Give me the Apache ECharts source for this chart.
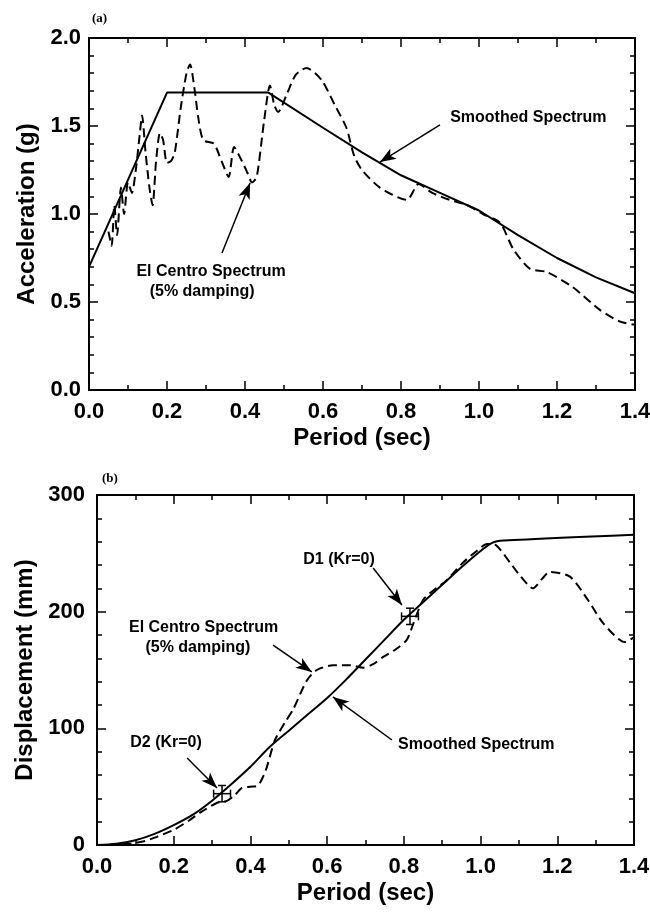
<!DOCTYPE html>
<html><head><meta charset="utf-8">
<script src="https://cdn.jsdelivr.net/npm/echarts@6/dist/echarts.min.js"></script>
<style>html,body{margin:0;padding:0;background:#fff}#c{width:650px;height:912px}</style>
</head><body><div id="c"></div>
<script>
// ---------- Data ----------
// Panel (a): spectral acceleration (g) vs period (sec)
const accSmoothed = [[0,0.70],[0.2,1.69],[0.46,1.69],[0.6,1.49],[0.7,1.35],[0.8,1.22],[0.9,1.12],[1.0,1.02],[1.1,0.88],[1.2,0.75],[1.3,0.64],[1.4,0.55]];
const accElCentro = [[0.05,0.90],[0.058,0.82],[0.065,1.05],[0.072,0.88],[0.082,1.15],[0.09,1.0],[0.1,1.18],[0.11,1.12],[0.12,1.25],[0.13,1.45],[0.136,1.56],[0.145,1.35],[0.155,1.15],[0.163,1.05],[0.172,1.3],[0.182,1.46],[0.19,1.42],[0.2,1.29],[0.21,1.3],[0.22,1.35],[0.235,1.6],[0.25,1.8],[0.259,1.85],[0.27,1.72],[0.28,1.55],[0.293,1.42],[0.32,1.40],[0.34,1.3],[0.358,1.21],[0.372,1.38],[0.39,1.31],[0.405,1.24],[0.418,1.18],[0.43,1.21],[0.449,1.53],[0.464,1.73],[0.475,1.62],[0.485,1.58],[0.507,1.68],[0.53,1.79],[0.558,1.83],[0.58,1.8],[0.6,1.75],[0.63,1.62],[0.66,1.49],[0.68,1.33],[0.70,1.25],[0.746,1.15],[0.815,1.08],[0.845,1.17],[0.88,1.12],[0.925,1.08],[0.97,1.05],[1.01,1.0],[1.054,0.95],[1.088,0.80],[1.13,0.69],[1.174,0.67],[1.24,0.585],[1.31,0.455],[1.36,0.39],[1.4,0.37]];
// Panel (b): spectral displacement (mm) vs period (sec)
const dispSmoothed = [[0,0],[0.05,1],[0.1,4],[0.15,9.5],[0.2,17],[0.25,26],[0.3,38],[0.35,52],[0.4,67],[0.45,84],[0.5,98],[0.55,112],[0.6,126],[0.65,142],[0.7,159],[0.75,176],[0.8,193],[0.85,208],[0.9,223],[0.95,238],[1.0,252],[1.03,259],[1.06,261],[1.4,266]];
const dispElCentro = [[0.03,0],[0.08,1],[0.12,3],[0.156,7],[0.2,13],[0.24,21],[0.27,28],[0.312,36],[0.34,38],[0.36,43],[0.378,49],[0.4,50],[0.42,51],[0.435,60],[0.443,67],[0.464,90],[0.49,105],[0.511,116],[0.547,141],[0.573,150],[0.615,154],[0.66,154],[0.694,152],[0.72,155],[0.745,161],[0.78,168],[0.808,176],[0.825,190],[0.85,210],[0.88,219],[0.912,227],[0.954,242],[0.99,252],[1.017,258],[1.04,257],[1.077,242],[1.1,232],[1.137,220],[1.16,228],[1.18,234],[1.233,230],[1.28,210],[1.32,190],[1.376,174],[1.4,178]];
// Design points with error bars: [period, displacement, periodErr, dispErr]
const designPoints = [[0.326,44,0.022,7],[0.816,196,0.022,7]];
// Axis ranges / tick steps
const periodRange = [0, 1.4, 0.2];
const accRange = [0, 2.0, 0.5];
const dispRange = [0, 300, 100];
// Annotation texts
const annA = [
  {text:'Smoothed Spectrum', at:[0.926,1.545], align:'left'},
  {text:'El Centro Spectrum', at:[0.313,0.67], align:'center'},
  {text:'(5% damping)', at:[0.29,0.557], align:'center'}
];
const arrowsA = [[[0.90,1.506],[0.746,1.295]], [[0.341,0.778],[0.413,1.176]]];
const annB = [
  {text:'D1 (Kr=0)', at:[0.631,245], align:'center'},
  {text:'El Centro Spectrum', at:[0.278,186], align:'center'},
  {text:'(5% damping)', at:[0.263,169], align:'center'},
  {text:'D2 (Kr=0)', at:[0.18,87.4], align:'center'},
  {text:'Smoothed Spectrum', at:[0.785,85.7], align:'left'}
];
const arrowsB = [[[0.72,237.4],[0.795,205.7]], [[0.459,171.4],[0.560,148.3]], [[0.235,74.6],[0.313,48.9]], [[0.769,90],[0.615,126.9]]];

// ---------- Styling helpers ----------
const FONT = 'Liberation Sans';
const axisLine = {show:true, onZero:false, lineStyle:{color:'#000', width:2}};
const tick = {show:true, inside:true, length:9, lineStyle:{color:'#000', width:1.5}};
function minor(n){ return {show:true, splitNumber:n, length:5, lineStyle:{color:'#000', width:1.5}}; }
const lblStyle = {color:'#000', fontFamily:FONT, fontWeight:'bold', fontSize:22};
const nameStyle = {color:'#000', fontFamily:FONT, fontWeight:'bold', fontSize:24};

function xAxisPair(gi){
  const base = {type:'value', gridIndex:gi, min:periodRange[0], max:periodRange[1], interval:periodRange[2],
    axisLine, axisTick:tick, minorTick:minor(2), splitLine:{show:false}, minorSplitLine:{show:false}};
  return [
    Object.assign({}, base, {position:'bottom', axisLabel:Object.assign({formatter:v=>v.toFixed(1), margin:11}, lblStyle),
      name:'Period (sec)', nameLocation:'middle', nameGap:36, nameTextStyle:nameStyle}),
    Object.assign({}, base, {position:'top', axisLabel:{show:false}})
  ];
}
function yAxisPair(gi, range, minorN, fmt, name, gap, margin){
  const base = {type:'value', gridIndex:gi, min:range[0], max:range[1], interval:range[2],
    axisLine, axisTick:tick, minorTick:minor(minorN), splitLine:{show:false}, minorSplitLine:{show:false}};
  return [
    Object.assign({}, base, {position:'left', axisLabel:Object.assign({formatter:fmt, margin:margin}, lblStyle),
      name:name, nameLocation:'middle', nameGap:gap, nameTextStyle:nameStyle}),
    Object.assign({}, base, {position:'right', axisLabel:{show:false}})
  ];
}
function annSeries(xi, yi, anns, arrows){
  return {type:'line', xAxisIndex:xi, yAxisIndex:yi, data:[], silent:true,
    markPoint:{symbol:'circle', symbolSize:0, silent:true,
      data: anns.map(a=>({coord:a.at, label:{show:true, formatter:a.text, position:[0,0], align:a.align, verticalAlign:'middle',
        color:'#000', fontFamily:FONT, fontWeight:'bold', fontSize:16}}))},
    markLine:{silent:true, symbol:['none','arrow'], symbolSize:[9,16], animation:false,
      lineStyle:{color:'#000', width:1.5, type:'solid'}, label:{show:false},
      data: arrows.map(a=>[{coord:a[0]},{coord:a[1]}])}
  };
}
function errRender(params, api){
  const x=api.value(0), y=api.value(1), dx=api.value(2), dy=api.value(3);
  const l=api.coord([x-dx,y]), r=api.coord([x+dx,y]), t=api.coord([x,y+dy]), b=api.coord([x,y-dy]);
  const c=4, st={stroke:'#000', lineWidth:1.5};
  const L=(x1,y1,x2,y2)=>({type:'line', shape:{x1,y1,x2,y2}, style:st});
  return {type:'group', children:[
    L(l[0],l[1],r[0],r[1]), L(t[0],t[1],b[0],b[1]),
    L(l[0],l[1]-c,l[0],l[1]+c), L(r[0],r[1]-c,r[0],r[1]+c),
    L(t[0]-c,t[1],t[0]+c,t[1]), L(b[0]-c,b[1],b[0]+c,b[1])
  ]};
}

const xA = xAxisPair(0), xB = xAxisPair(1);
const yA = yAxisPair(0, accRange, 5, v=>v.toFixed(1), 'Acceleration (g)', 50, 8);
const yB = yAxisPair(1, dispRange, 5, v=>String(v), 'Displacement (mm)', 58, 12);

const chart = echarts.init(document.getElementById('c'), null, {renderer:'canvas'});
chart.setOption({
  backgroundColor:'#fff',
  animation:false,
  grid:[
    {left:89, right:15, top:38, bottom:522, outerBoundsMode:'none', containLabel:false},
    {left:97, right:16, top:495, bottom:67, outerBoundsMode:'none', containLabel:false}
  ],
  xAxis:[xA[0], xA[1], xB[0], xB[1]],
  yAxis:[yA[0], yA[1], yB[0], yB[1]],
  graphic:[
    {type:'text', left:92, top:12, style:{text:'(a)', font:'bold 13px "Liberation Serif"', fill:'#000'}},
    {type:'text', left:102, top:472, style:{text:'(b)', font:'bold 13px "Liberation Serif"', fill:'#000'}}
  ],
  series:[
    {type:'line', xAxisIndex:0, yAxisIndex:0, data:accSmoothed, showSymbol:false, smooth:false,
      lineStyle:{color:'#000', width:2}},
    {type:'line', xAxisIndex:0, yAxisIndex:0, data:accElCentro, showSymbol:false, smooth:0.25,
      lineStyle:{color:'#000', width:2, type:[9,5]}},
    annSeries(0, 0, annA, arrowsA),
    {type:'line', xAxisIndex:2, yAxisIndex:2, data:dispSmoothed, showSymbol:false, smooth:0.3,
      lineStyle:{color:'#000', width:2}},
    {type:'line', xAxisIndex:2, yAxisIndex:2, data:dispElCentro, showSymbol:false, smooth:0.25,
      lineStyle:{color:'#000', width:2, type:[9,5]}},
    {type:'custom', xAxisIndex:2, yAxisIndex:2, data:designPoints, renderItem:errRender, silent:true},
    annSeries(2, 2, annB, arrowsB)
  ]
});
</script>
</body></html>
